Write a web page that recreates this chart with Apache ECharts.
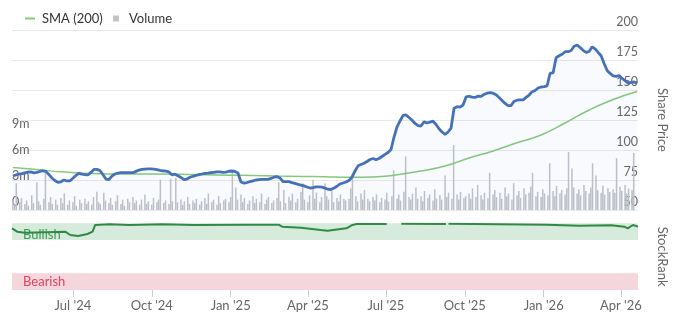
<!DOCTYPE html>
<html>
<head>
<meta charset="utf-8">
<script src="https://cdn.jsdelivr.net/npm/echarts@6/dist/echarts.min.js"></script>
<style>
  html, body { margin: 0; padding: 0; background: #ffffff; }
  #chart { width: 677px; height: 322px; }
</style>
</head>
<body>
<div id="chart"></div>
<script>
// Share price, two readings a week, starting Monday 22 Apr 2024
const priceValues = [
  78.3, 79.2, 79.8, 80.3, 81.0, 81.5, 81.7, 81.0, 81.4, 82.1,
  82.7, 82.2, 79.6, 76.7, 74.6, 73.1, 73.5, 75.0, 74.2, 74.2,
  76.4, 78.8, 80.6, 79.9, 79.5, 79.2, 81.3, 83.8, 83.8, 82.9,
  79.6, 75.8, 75.4, 78.3, 80.0, 80.8, 81.1, 81.1, 81.1, 81.1,
  81.1, 82.2, 83.2, 83.8, 84.0, 84.2, 84.2, 84.0, 83.6, 83.1,
  82.7, 82.4, 81.7, 79.3, 79.8, 78.5, 77.1, 75.3, 75.8, 77.3,
  78.1, 78.8, 79.4, 80.0, 80.6, 80.8, 81.1, 81.4, 81.7, 81.7,
  81.3, 81.5, 82.3, 82.5, 82.1, 80.8, 73.3, 72.4, 72.9, 73.6,
  74.3, 75.0, 75.3, 75.5, 75.6, 75.6, 76.3, 77.3, 77.8, 76.7,
  73.6, 73.6, 73.6, 72.8, 72.2, 71.3, 70.8, 70.1, 69.2, 68.3,
  68.7, 69.2, 69.3, 69.1, 68.2, 67.3, 67.1, 68.3, 69.8, 71.7,
  72.5, 73.3, 74.6, 77.5, 82.5, 86.8, 87.9, 88.9, 90.4, 92.1,
  92.9, 91.9, 92.9, 94.6, 96.3, 97.9, 100.4, 110.8, 119.2, 124.2,
  128.8, 129.2, 127.1, 124.8, 122.1, 120.3, 120.0, 123.5, 122.5, 123.3,
  124.0, 121.3, 117.7, 115.0, 112.9, 115.0, 118.3, 134.8, 136.1, 135.8,
  137.5, 144.2, 144.8, 144.0, 143.8, 144.9, 144.6, 146.4, 147.3, 147.8,
  147.3, 146.0, 143.8, 141.3, 138.8, 136.9, 137.1, 140.6, 141.5, 141.7,
  141.7, 143.8, 145.8, 148.6, 149.6, 151.7, 152.5, 152.8, 153.5, 164.0,
  164.3, 176.9, 178.5, 179.8, 181.9, 181.9, 182.9, 186.5, 187.5, 185.4,
  183.1, 181.3, 182.1, 186.0, 184.2, 181.3, 178.6, 172.1, 166.3, 163.8,
  161.8, 161.4, 162.1, 159.6, 157.8, 155.6, 156.3, 156.7, 155.7
];

// 200-day simple moving average, one reading every four weeks
const smaValues = [
  85.4, 83.7, 81.8, 80.6, 80.0, 80.0, 80.0, 79.8, 79.3, 79.0,
  78.7, 78.3, 78.0, 77.8, 77.3, 77.5, 79.3, 82.5, 86.7, 93.3,
  99.2, 106.0, 112.5, 122.5, 133.3, 142.1, 148.8
];

// Shares traded (millions), every second trading day
const volumeValues = [
  1.2, 0.6, 3.1, 0.9, 1.4, 0.7, 1.1, 0.5, 1.7, 0.8,
  3.2, 1.0, 0.6, 1.3, 4.6, 0.9, 1.5, 0.7, 1.2, 0.6,
  1.4, 0.8, 1.9, 0.6, 1.1, 0.9, 1.6, 0.5, 1.2, 0.8,
  1.3, 0.7, 1.0, 0.6, 1.5, 2.1, 0.9, 0.7, 2.0, 1.1,
  0.8, 1.4, 0.6, 1.0, 1.7, 0.7, 1.2, 0.5, 1.3, 0.9,
  1.5, 0.8, 1.1, 0.6, 1.2, 1.8, 0.7, 1.0, 0.6, 1.4,
  0.9, 1.2, 3.5, 0.8, 1.1, 0.7, 3.6, 1.0, 3.7, 0.9,
  1.2, 0.6, 1.0, 1.5, 0.7, 1.1, 0.8, 1.3, 0.6, 1.0,
  1.4, 0.7, 1.9, 0.9, 1.2, 0.6, 1.6, 0.8, 1.1, 1.3,
  0.9, 1.5, 4.4, 2.6, 1.2, 1.8, 0.9, 1.4, 0.7, 1.1,
  1.6, 0.8, 1.3, 0.9, 1.9, 0.7, 1.2, 1.5, 0.8, 1.1,
  1.4, 3.2, 1.0, 2.3, 0.8, 1.5, 1.1, 1.9, 0.9, 1.3,
  2.1, 3.1, 1.2, 0.9, 1.7, 3.5, 1.3, 2.0, 0.9, 1.5,
  3.1, 1.6, 1.2, 2.2, 0.9, 1.4, 1.0, 1.8, 1.3, 1.1,
  1.3, 2.5, 4.0, 1.6, 1.0, 1.9, 1.2, 2.3, 1.3, 1.0,
  1.5, 1.1, 1.8, 0.9, 1.4, 1.2, 2.0, 1.0, 1.6, 4.6,
  1.3, 1.8, 1.1, 2.1, 6.2, 1.5, 1.2, 1.9, 2.6, 1.3,
  1.6, 1.0, 2.2, 1.4, 1.8, 1.1, 2.4, 1.3, 1.7, 1.2,
  4.0, 1.5, 2.0, 1.3, 7.5, 1.8, 1.2, 2.1, 1.4, 1.6,
  1.9, 1.3, 2.5, 1.5, 2.9, 1.7, 1.2, 2.0, 1.4, 4.3,
  1.8, 2.3, 1.5, 2.0, 1.3, 2.6, 1.6, 1.9, 1.2, 3.1,
  1.7, 2.2, 1.4, 2.5, 1.8, 2.0, 2.7, 4.3, 1.6, 2.1,
  1.5, 2.4, 1.9, 1.7, 5.4, 2.2, 1.6, 2.8, 1.9, 2.3,
  1.8, 2.5, 6.7, 4.8, 2.6, 1.9, 2.4, 1.7, 2.9, 2.2,
  1.9, 2.6, 5.4, 4.0, 2.3, 2.0, 2.8, 1.8, 2.5, 2.1,
  2.4, 2.0, 6.0, 2.7, 2.2, 2.9, 1.9, 2.5, 2.3, 6.6
];

// StockRank readings; '-' marks days with no rank published
const rankDates = [
  '2024-04-21', '2024-04-27', '2024-05-06', '2024-06-22', '2024-06-28',
  '2024-07-07', '2024-07-18', '2024-07-24', '2024-07-27', '2024-08-13',
  '2024-09-05', '2024-10-13', '2024-11-20', '2025-01-15', '2025-02-26',
  '2025-03-02', '2025-03-24', '2025-04-16', '2025-04-24', '2025-05-16',
  '2025-05-23', '2025-05-28', '2025-07-02', '2025-07-10', '2025-07-19',
  '2025-09-09', '2025-09-11', '2025-09-12', '2026-01-05', '2026-02-12',
  '2026-03-21', '2026-04-05', '2026-04-09', '2026-04-15', '2026-04-21'
];
const rankValues = [
  92.5, 87.5, 86, 87.5, 82.5,
  81, 84, 87.5, 97.5, 98.5,
  97.5, 98.5, 97.5, 98, 98,
  95, 93.5, 90, 89, 92.5,
  97.5, 99, 99, '-', 99.5,
  99, '-', 99.5, 98, 96.5,
  97, 95, 92.5, 97.5, 95
];

// Quarterly date ticks
const tickDates = ['2024-07-01', '2024-10-01', '2025-01-01', '2025-04-01',
                   '2025-07-01', '2025-10-01', '2026-01-01', '2026-04-01'];
const tickLabels = ["Jul '24", "Oct '24", "Jan '25", "Apr '25",
                    "Jul '25", "Oct '25", "Jan '26", "Apr '26"];

const DAY = 86400000;
const utc = s => { const p = s.split('-').map(Number); return Date.UTC(p[0], p[1] - 1, p[2]); };
const start = utc('2024-04-22');
const xMin = utc('2024-04-21');
const xMax = utc('2026-04-21');

const priceData = priceValues.map((v, i) => [start + i * 3.5 * DAY, v]);
const smaData = smaValues.map((v, i) => [start + i * 28 * DAY, v]);

// walk the calendar, keeping every second weekday for the volume bars
const volumeData = [];
for (let d = start, n = 0; volumeData.length < volumeValues.length; d += DAY) {
  const wd = new Date(d).getUTCDay();
  if (wd === 0 || wd === 6) continue;
  if (n % 2 === 0) volumeData.push([d, volumeValues[volumeData.length] * 1e6]);
  n++;
}

const rankData = rankDates.map((s, i) => [utc(s), rankValues[i]]);
const tickValues = tickDates.map(utc);

const FONT = 'Lato';
const AXIS_COLOR = '#666666';

const chart = echarts.init(document.getElementById('chart'), null, { renderer: 'canvas' });
chart.setOption({
  animation: false,
  textStyle: { fontFamily: FONT },
  legend: [
    {
      left: 20, top: 7, itemWidth: 10, itemHeight: 2,
      data: [{ name: 'SMA (200)', icon: 'rect' }],
      textStyle: { fontFamily: FONT, fontSize: 13, color: '#333333', padding: [0, 0, 0, 2] }
    },
    {
      left: 108, top: 7, itemWidth: 6, itemHeight: 6,
      data: [{ name: 'Volume', icon: 'rect' }],
      textStyle: { fontFamily: FONT, fontSize: 13, color: '#333333', padding: [0, 0, 0, 5] }
    }
  ],
  grid: [
    { left: 12, right: 20, top: 30, height: 180 },
    { left: 12, right: 20, top: 223.3, height: 66.7 }
  ],
  xAxis: [
    {
      type: 'value', gridIndex: 0, min: xMin, max: xMax,
      axisLine: { show: false }, axisTick: { show: false },
      axisLabel: { show: false }, splitLine: { show: false }
    },
    {
      type: 'value', gridIndex: 1, min: xMin, max: xMax,
      axisLine: { show: false },
      axisTick: { show: true, customValues: tickValues, length: 7, lineStyle: { color: '#cccccc' } },
      axisLabel: {
        customValues: tickValues, margin: 9, fontSize: 13, color: AXIS_COLOR, fontFamily: FONT,
        formatter: v => tickLabels[tickValues.indexOf(v)] || ''
      },
      splitLine: { show: false }
    }
  ],
  yAxis: [
    {
      type: 'value', gridIndex: 0, position: 'right', min: 50, max: 200, interval: 25,
      name: 'Share Price', nameLocation: 'middle', nameRotate: -90, nameGap: 18,
      nameTextStyle: { fontSize: 13, color: AXIS_COLOR, fontFamily: FONT },
      axisLine: { show: false }, axisTick: { show: false },
      axisLabel: { inside: true, margin: 0, verticalAlign: 'bottom', padding: [0, 0, 2, 0],
                   fontSize: 12.5, color: AXIS_COLOR, fontFamily: FONT },
      splitLine: { lineStyle: { color: '#e8e8e8', width: 1 } }
    },
    {
      type: 'value', gridIndex: 0, position: 'left', min: 0, max: 20.8e6, interval: 3e6,
      axisLine: { show: false }, axisTick: { show: false },
      axisLabel: { inside: true, margin: 0, verticalAlign: 'bottom', padding: [0, 0, 2, 0],
                   fontSize: 12.5, color: AXIS_COLOR, fontFamily: FONT,
                   formatter: v => v === 0 ? '0' : (v <= 9e6 ? (v / 1e6) + 'm' : '') },
      splitLine: { show: false }
    },
    {
      type: 'value', gridIndex: 1, position: 'right', min: 0, max: 100, interval: 100,
      name: 'StockRank', nameLocation: 'middle', nameRotate: -90, nameGap: 18,
      nameTextStyle: { fontSize: 13, color: AXIS_COLOR, fontFamily: FONT },
      axisLine: { show: false }, axisTick: { show: false },
      axisLabel: { inside: true, margin: 0, verticalAlign: 'bottom', padding: [0, 0, 2, 0],
                   fontSize: 12.5, color: AXIS_COLOR, fontFamily: FONT,
                   formatter: v => v === 0 ? '0' : '' },
      splitLine: { show: false }
    }
  ],
  series: [
    {
      name: 'Volume', type: 'bar', xAxisIndex: 0, yAxisIndex: 1,
      data: volumeData, barWidth: 1.5, z: 1,
      itemStyle: { color: '#c2c2c8' }
    },
    {
      name: 'Share Price', type: 'line', xAxisIndex: 0, yAxisIndex: 0,
      data: priceData, showSymbol: false, z: 3,
      lineStyle: { color: '#4571b8', width: 2.8 },
      itemStyle: { color: '#4571b8' },
      areaStyle: { color: 'rgba(70,110,190,0.05)', origin: 'start' }
    },
    {
      name: 'SMA (200)', type: 'line', xAxisIndex: 0, yAxisIndex: 0,
      data: smaData, smooth: true, showSymbol: false, z: 2,
      lineStyle: { color: '#86c97a', width: 1.5 },
      itemStyle: { color: '#86c97a' }
    },
    {
      name: 'StockRank', type: 'line', xAxisIndex: 1, yAxisIndex: 2,
      data: rankData, showSymbol: false, connectNulls: false, z: 3,
      lineStyle: { color: '#2f8a46', width: 2 },
      itemStyle: { color: '#2f8a46' },
      markArea: {
        silent: true,
        data: [
          [
            { yAxis: 75, itemStyle: { color: '#d6ebdb' },
              label: { show: true, position: 'insideLeft', distance: 11, offset: [0, 3],
                       formatter: 'Bullish', color: '#3d9a52', fontSize: 13, fontFamily: FONT } },
            { yAxis: 100 }
          ],
          [
            { yAxis: 0, itemStyle: { color: '#f5d6dc' },
              label: { show: true, position: 'insideLeft', distance: 11,
                       formatter: 'Bearish', color: '#d8455f', fontSize: 13, fontFamily: FONT } },
            { yAxis: 25 }
          ]
        ]
      }
    }
  ]
});
</script>
</body>
</html>
